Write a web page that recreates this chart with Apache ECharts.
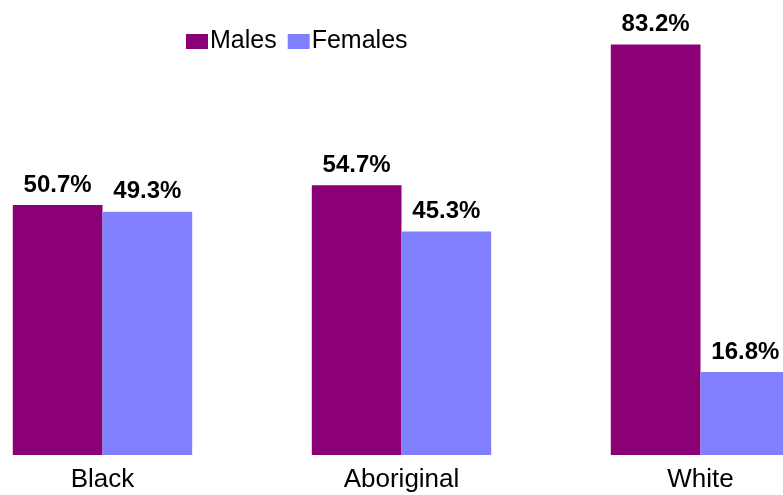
<!DOCTYPE html>
<html>
<head>
    <meta charset="utf-8">
    <title>ECharts</title>
    <script src="https://cdn.jsdelivr.net/npm/echarts@6/dist/echarts.min.js"></script>
    <style>
      html, body { margin: 0; padding: 0; background: #fff; }
      #main { width: 783px; height: 495px; }
    </style>
</head>
<body>
    <div id="main"></div>
    <script type="text/javascript">
      // data
      var categories = ['Black', 'Aboriginal', 'White'];
      var males = [50.7, 54.7, 83.2];
      var females = [49.3, 45.3, 16.8];

      var myChart = echarts.init(document.getElementById('main'));

      var valueLabel = {
        show: true,
        position: 'top',
        distance: 8,
        color: '#000',
        fontFamily: 'Liberation Sans, Arial, sans-serif',
        fontWeight: 'bold',
        fontSize: 24,
        formatter: function (p) { return p.value.toFixed(1) + '%'; }
      };

      var option = {
        animation: false,
        backgroundColor: '#fff',
        textStyle: { fontFamily: 'Liberation Sans, Arial, sans-serif' },
        legend: {
          data: ['Males', 'Females'],
          left: 186,
          top: 29,
          padding: 0,
          itemWidth: 22,
          itemHeight: 15,
          itemGap: 11,
          icon: 'rect',
          textStyle: { fontSize: 25, color: '#000', padding: [0, 0, 0, -3] }
        },
        // grid goes past the window edges so the White females bar is cut off
        grid: { left: -47, right: -67, top: 11, bottom: 40, outerBoundsMode: 'none' },
        xAxis: {
          type: 'category',
          data: categories,
          axisLine: { show: false },
          axisTick: { show: false },
          axisLabel: { color: '#000', fontSize: 26, margin: 12 }
        },
        yAxis: {
          type: 'value',
          min: 0,
          max: 90,
          show: false,
          splitLine: { show: false }
        },
        series: [
          {
            name: 'Males',
            type: 'bar',
            data: males,
            barGap: '0%',
            barCategoryGap: '40%',
            itemStyle: { color: '#8B0075' },
            label: valueLabel
          },
          {
            name: 'Females',
            type: 'bar',
            data: females,
            itemStyle: { color: '#8080FF' },
            label: valueLabel
          }
        ]
      };
      myChart.setOption(option);
    </script>
</body>
</html>
